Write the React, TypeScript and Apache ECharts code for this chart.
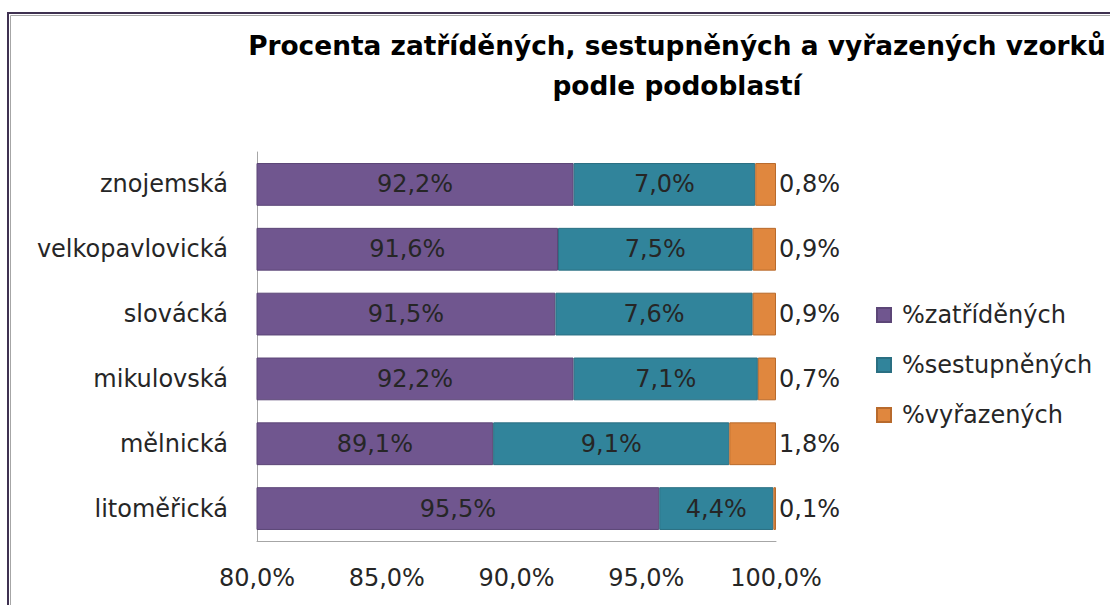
import React, { useEffect, useRef } from "react";
import * as echarts from "echarts";

const categories = ["znojemská", "velkopavlovická", "slovácká", "mikulovská", "mělnická", "litoměřická"];
const zatridenych = [92.2, 91.6, 91.5, 92.2, 89.1, 95.5];
const sestupnenych = [7.0, 7.5, 7.6, 7.1, 9.1, 4.4];
const vyrazenych = [0.8, 0.9, 0.9, 0.7, 1.8, 0.1];
const seriesNames = ["%zatříděných", "%sestupněných", "%vyřazených"];
const titleLines = ["Procenta zatříděných, sestupněných a vyřazených vzorků", "podle podoblastí"];

const FONT = "DejaVu Sans";
const FS = 24;
const TXT = "#262626";
const fmt = (v: number) => v.toFixed(1).replace(".", ",") + "%";

export default function App() {
  const ref = useRef<HTMLDivElement>(null);
  useEffect(() => {
    if (!ref.current) return;
    const chart = echarts.init(ref.current, undefined, { renderer: "svg" });
    const labelStyle = { show: true, fontFamily: FONT, fontSize: FS, color: TXT, formatter: (p: any) => fmt(p.value) };
    chart.setOption({
      animation: false,
      backgroundColor: "#ffffff",
      textStyle: { fontFamily: FONT },
      graphic: [
        { type: "rect", shape: { x: 8, y: 13, width: 1300, height: 800 }, style: { fill: "none", stroke: "#3f3151", lineWidth: 2 }, silent: true },
        { type: "rect", shape: { x: 10.5, y: 15.5, width: 1300, height: 800 }, style: { fill: "none", stroke: "#a6a6a6", lineWidth: 1 }, silent: true },
        {
          type: "text",
          x: 677,
          y: 25,
          style: {
            text: titleLines.join("\n"),
            align: "center",
            verticalAlign: "top",
            font: `bold 26.4px '${FONT}'`,
            lineHeight: 40,
            fill: "#000000",
          },
        },
      ],
      legend: {
        orient: "vertical",
        left: 876,
        top: 303,
        padding: 0,
        itemWidth: 14,
        itemHeight: 14,
        itemGap: 26,
        icon: "rect",
        textStyle: { fontFamily: FONT, fontSize: FS, color: TXT, lineHeight: 24, padding: [0, 0, 0, 6] },
        data: seriesNames,
      },
      grid: { left: 257, right: 334, top: 152, bottom: 64, containLabel: false },
      xAxis: {
        type: "value",
        min: 80,
        max: 100,
        interval: 5,
        axisLine: { show: true, lineStyle: { color: "#a6a6a6", width: 1 } },
        axisTick: { show: false },
        splitLine: { show: false },
        axisLabel: { fontFamily: FONT, fontSize: FS, color: TXT, margin: 25, formatter: (v: number) => fmt(v) },
      },
      yAxis: {
        type: "category",
        inverse: true,
        data: categories,
        axisLine: { show: true, lineStyle: { color: "#a6a6a6", width: 1 } },
        axisTick: { show: false },
        axisLabel: { fontFamily: FONT, fontSize: FS, color: TXT, margin: 29 },
      },
      series: [
        {
          name: seriesNames[0],
          type: "bar",
          stack: "total",
          barWidth: "66%",
          data: zatridenych,
          itemStyle: { color: "#70568f", borderColor: "#5c4677", borderWidth: 1 },
          label: { ...labelStyle, position: "inside" },
        },
        {
          name: seriesNames[1],
          type: "bar",
          stack: "total",
          data: sestupnenych,
          itemStyle: { color: "#31849b", borderColor: "#2a6f82", borderWidth: 1 },
          label: { ...labelStyle, position: "inside" },
        },
        {
          name: seriesNames[2],
          type: "bar",
          stack: "total",
          data: vyrazenych,
          itemStyle: { color: "#e0873e", borderColor: "#b86a2c", borderWidth: 1 },
          label: { ...labelStyle, position: "right", distance: 3 },
        },
      ],
    });
    return () => chart.dispose();
  }, []);
  return <div ref={ref} style={{ position: "absolute", left: 0, top: 0, width: 1110, height: 605 }} />;
}
